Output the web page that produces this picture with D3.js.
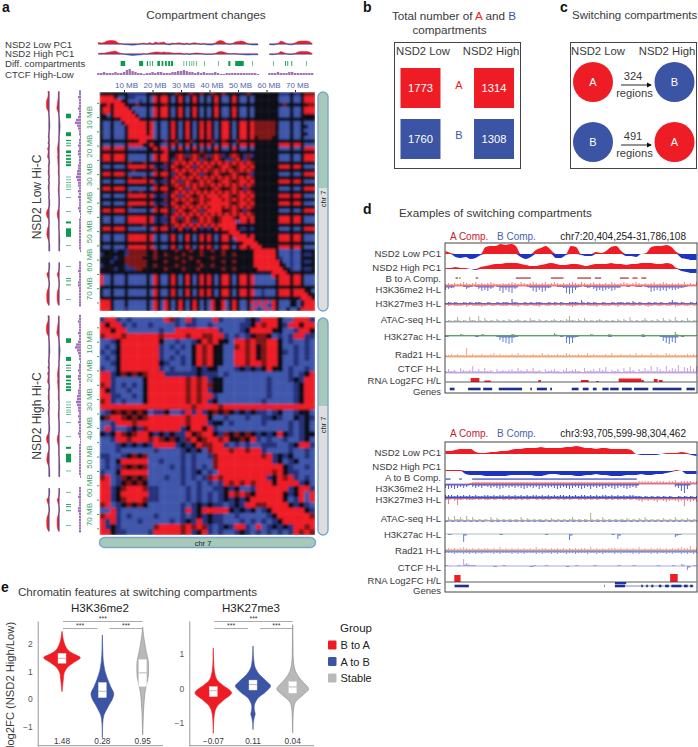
<!DOCTYPE html>
<html>
<head>
<meta charset="utf-8">
<script src="https://cdn.jsdelivr.net/npm/d3@7"></script>
<style>
    html, body { margin: 0; padding: 0; background: #fff; }
    svg { display: block; }
    text { font-family: "Liberation Sans", Arial, sans-serif; fill: #3a3a3a; }
</style>
</head>
<body>
<div id="chart"></div>
<script>
// a: contact maps, one letter per bin (r red, b blue, k black, d dark red, n navy)
const hicLow = [
    "kkkkkkkknn nnnkkkkkkk kdkkkdkkdk kdkkdkkkkk kdkkkkkkkk nnnknnkddd",
    "rrrrkbbknn bbbkbrkrrk bkrkbkrkbk bkrkbbkrkb bkbkkkkkkk bbbkbbkrrr",
    "rrrrrrkkbb bnbkbrkrrk bkrkbkrkbk bkrkbbkrkb bkbkkkkkkk bbbkbbkrrr",
    "kkrkrrrkkk dkkkkkkkdk kkkkkkkkkk kkdkkkkkkk kkkkkkkkkk kdkkkkkkdd",
    "krrkrrrrkb bbbkbrkrrk bkrkbkrkbk bkrkbbkrkb bkbkkkkkkk bbbkbbkrrr",
    "krrkrrrrrk bbbkbrkrrk bkrkbkrkbk bkrkbbkrkb bkbkkkkkkk bbbkbbkrrr",
    "kkbkrrrrrr kbbkbrkrrk bkrkbkrkbk bkrkbbkrkb bkbkkkkkkk bbbkbbkkkk",
    "kkkkkkrrrr rkkkkkkkkk kkkkkkkkkk kkkkkkkkkk kkkkkkkkkk kkkkkkkkkk",
    "kbbkbbkrrr rrrkrbkbbk rkbkrkbkrk rkbkrrkbkr rkrddddddk bbbkbbkbbb",
    "kbbkbbbkrr rrrkrbkbbk rkbkrkbkrk rkbkrrkbkr rkrddddddk bbbkbbkkbb",
    "kbbkbbbkrr rrrkrbkbbk rkbkrkbkrk rkbkrrkbkr rkrddddddk bbbkbbkbbb",
    "kbbkbbbkrr rrrkrbkbbk rkbkrkbkrk rkbkrrkbkr rkrddddddk bbbkbbkkbb",
    "kbbkbbbkrr rrrrrbkbbk rkbkrkbkrk rkbkrrkbkr rkrkddddkk bbbkbbkbbb",
    "kkkkkkkkkk krrkkkkkdk kdkkkdkkkk kdkkdkkkdk kkkkkkkkkk kkkkkkkkkk",
    "kbbkbbbkrr rrkkrkkbbk rkbkrkbkrk rkbkrrkbkr rkrkkkkkkk rrrkrrkbbb",
    "krrkrrrkbb bbbkkrkrrk bkrkbkrkbk bkrkbbkrkb bkbkkkkkkk bbbkbbkrrr",
    "kkkkkkkkkk kkkkkkkkrk kkkkkkkkdk kkkkkkkkkk kkkkkkkkkk kkkkkkkkkk",
    "krrkrrrkbb bbbkbrkrrk kdrdndrdkd ndrdnkdrdk ndnkkkkkkk bbbkbbkrrr",
    "krrkrrrkbb bbbkbrkrrk ndrdkdrdnd kdrdknndrk ndkkkkkkkk bbbkbbkrrr",
    "kkkkkkkkdk kkdkkkkkdk drdrdrdrdr drdrdrdrdr drdkkkkkkk kkkkkkkkkk",
    "kbbkbbbkrr rrrkrnknnk rdkdrdndrd rdkdrrdkdr rdrkkkkkkk rrrkrrkbbb",
    "kkkkkkkkkd kkkkkdkkdk drdrdrdrdr ddrdrdrddr drdkkkkkkk kkkkkkkkkk",
    "krrkrrrkbb bbbkbrkrrk ndrdkdrdnd kdrdkkdrdk kdnkkkkkkk bbbkbbkrrr",
    "kkkkkkkkdk kkdkkkkkdk drdrdrdrdr drdrdrdrdr drdkkkkkkk kkkkkkkkkk",
    "kbbkbbbkrr rrrkrnknnk rdndrdkdrd rdkdrrdkdr rdrkkkkkkk rrrkrrkbbb",
    "kkkkkkkkkk kkkkkdkkdk drddrdrdrd drdrdrdrdr drdkkkkkkk kkkkkkkkkk",
    "krrkrrrkbb bbbkbrkrrk kdrdndrdkd kdrdkkdrdk ndkkkkkkkk bbbkbbkrrr",
    "kkkkkkkkdk kdkkkkkkdk drdrdrdrdr drdrdrdrdr drdkkkkkkk kkkkkkkkkk",
    "kbbkbbbkrr rrrkrnknnk rdndrdkdrd rrrdrrdkdr rdrkkkkkkk rrrkrrkbbb",
    "kkkkkkkkkk kkkkkkkkdk drdrdrddrd drrrdrdrdr drdkkkkkkk kkkkkkkkkk",
    "kbbkbbbkrr rrrkrnknnk rdkdrdkdrd rrrrrrdkdr rdrkkkkkkk rrrkrrkbbb",
    "kkkkkkkkdk kkkkkdkkdk drdrdrdrdr drrrdrdrdr drdkkkkkkk kkkkkkkkkk",
    "krrkrrrkbb bbbkbrkrrk ndrdkdrdnd rrrrkkdrdk ndkkkkkkkk bbbkbbkrrr",
    "kkkkkkkkkk kkkkkkkkdk drdrdrdrdr drdrdrdrdr drdkkkkkkk kkkkkkkkkk",
    "kbbkbbbkrr rrrkrnknnk rdndrdkdrd rdkdrrrdkr rdrkkkkkkk rrrkrrkbbb",
    "kbbkbbbkrr rrrkrnknnk rdkdrdndrd rdkdrrrrbr rkrkkkkkkk rrrkrrkbbb",
    "kkkkkkkkkk kkdkkkkkdk drdrdrdrdr drdrrrrrkk kkkkkkkkkk kkkkkkkkkk",
    "krrkrrrkbb bbbkbrkrrk nkrknkrknk nkrkrrrrkn nknkkkkkkk bbbkbbkrrr",
    "kkkkkkkkkk kkkkkkkkkk kkkkkkkkkk kkkkkkrrrk kkkkkkkkkk kkkkkkkkkk",
    "kbbkbbbkrr rrrkrbkbbk rkbkrkbkrk rkbkrrkrrr rkrkkkkkkk rrrkrrkbbb",
    "kbbkbbbkrr rrrkrbkbbk rkbkrkbkrk rkbkrrkbrr rrrkkkkkkk rrrkrrkbbb",
    "kkkkkkkkkk kkkkkkkkkk kkkkkkkkkk kkkkkkkkkk rrrrkkkkkk kkkkkkkkkk",
    "kbbkbbbkrr rrrkrbkbbk rkbkrkbkrk rkbkrrkbkr rkrrrkkkkk rrrkrrkbbb",
    "kkkknkkndd dddkkdkkkk kdkkkdkkdk kdkkdkkkkk kkkrrrrrrk bbbnbbkkkk",
    "nkkkkkkndd dddkkdkkdk kkkdkkkkdk kkkkdkkdkk kkkrrrrrrk bbbnbbknnk",
    "kkkknkkddd ddkkkdkkkk kdkkkdkkkk kdkkkkkkkk kkkrrrrrrk nbbnbbkkkk",
    "kkknkkkddd dddkkkkkdk kkkdkkkdkk kkkkdkkdkk kkkrrrrrrr kbbnbbknnk",
    "nkkkkkkndd dddkkdkkkk kdkkkkkkdk kdkkkkkkkk kkkrrrrrrr kkbnbbkkkk",
    "kkkknkknnn ddkkkkkkdk kkkdkkkdkk kkkkdkkdkk kkkkrrrrrr rkknbbknnk",
    "kkkkkkkkkk kkkkkkkkkk kkkkkkkkkk kkkkkkkkkk kkkkkkkkrr rrkkkkkkkk",
    "rbbkbbbkbb bbbkbrkbbk rkbkrkbkrk rkbkrrkbkr rkrbbbbbrk rrrkrrkbbb",
    "rbbkbbbkbb bbbkbrkbbk rkbkrkbkrk rkbkrrkbkr rkrbbbbbbk rrrkrrkbbb",
    "rbbkbbbkbb bbbkbrkbbk rkbkrkbkrk rkbkrrkbkr rkrbbbbbbk rrrkrrkbbb",
    "kkkkkkkkkk kkkkkkkkkk kkkkkkkkkk kkkkkkkkkk kkkkkkkkkk kkkkkkkkkk",
    "kbbkbbbkbb bbbkbrkbbk rkbkrkbkrk rkbkrrkbkr rkrbbnbbbk rrrkrrrkkb",
    "kbbkbbbkbb bbbkbrkbbk rkbkrkbkrk rkbkrrkbkr rkrbbnbbbk rrrkrrrrkk",
    "kkkkkkkkkk kkkkkkkkkk kkkkkkkkkk kkkkkkkkkk kkkkkkkkkk kkkkkkrrrk",
    "rrrkbbbkbb bbbkbrkbrk bkrkbkrkbk brkkrbkrkb bkrbrbrbrk bbbkkbkrrr",
    "rrrkbbbkbb bbbkbrkbrk bkrkbkrkbk brkkrbkrkb bkbrbrbnrk bbbkkbkrrr",
    "rrrkbbbnbb bbbkbrkbrk bkrkbkrkbk brkkrbkrkb bkrbnbrbrk bbkbbkrrrr"
];
const hicHigh = [
    "nrrnbnbbbb bbrdnbrnbb brnbbbbnkn rrrkbbrrrn",
    "rkrrnbnbbn bbbbnbnnbb nbbbbbnnkr drrknrrkrr",
    "rrkrrbbbbb bnbbrrrrrr rrnbbbnkrr rrkkbbnrrk",
    "drrrdrrrrr rdrrrrdrrd drrnbnbnkd dkbnbnrrnn",
    "bbnkrrrrrr rkbbnbbnkr drkkbrrdrd drrkbnbbnb",
    "bnbkrrrrrr rnbnbnbkrd rkkbbdrdrk drrkbbnbnb",
    "nbnkrrrrrr rnbbnbbkrd rkkbbrrdrk drrknbnbnb",
    "bnbkrrrrrr rnbnbnbkrd rkkbbrrdrk drrkbbnbnb",
    "bbnkrrrrrr rknbbnbkrd rkkbbrrdrr drrkbbnbbb",
    "nbbkrrrrrr rnbnbbbnkn kkbbbnknkn krkkbnbbnb",
    "rrnkdkdkdr rrnnnnnnkn nnbnbbbbbb bbbbbnbnkr",
    "rrnbbbbbkr rrrrrrdrdr nkkbbbbbbb bnbbbnknrr",
    "drnbnbnbkr rrrrrrdrdr dkkbbbbbbb bnbbbbnkrr",
    "rknbbnbbkr rrrrrrdrdr nkkbbbbbbb bnbbbbnkrr",
    "rrnnbbnbkr rrrrrrdrdr rnbbbbbbbb bnbbbbnkrr",
    "drnbnbbbkr rrrrrrdrdr nkbbbbbbbb nbbbbbnkrr",
    "rrrrrrrrrr rrrrrrrdrr rrdrrrrrrr rrrrrrrrrr",
    "bnkdkdkdkb nnkbbnrnrn kdkdknknkn nbnkbbnkkb",
    "kdrrdkdkdr rrrrrrdrrr kbbnbbbnbb nnknbbknkn",
    "bbnrrrdrrr rrrrrrdrrr nkkbnbbbbb nbbbbnbnkb",
    "brnbbnkndr rrrrrnkrrk rnbbbbbbbb bbbbbnbnkb",
    "knkrdkdrrk nknknnrkdr rkndkdkdkn knkrknbnkk",
    "bbnrrdrrrd rdkdkndrkd rrdrkkdkrn bnbbnbbnkb",
    "bbbnknknkn rrrrnknkrd drrnbnbnbb nnnbbnkrrn",
    "bbbnbbbbbb nbbbbnknkb drrrdrrdrr nbbbbnbbnb",
    "nnbbnkdkdb bbbbbnbnbb ndrrrrrrrr drnknkbbnb",
    "bnbkrrrrrb bnbbbnbnbb bdrrrrrrrr rrnkbnkbbb",
    "bnbndkdkdb bbbnbnbnbn bdrrrrrrrr rrrrknbbnb",
    "nbbkrrrrrb bbbbbnbnkb nbrrrrrrrr rrdrknnbbb",
    "drbndkdkdb bbnbbnbnbn drdrrrrrrr rnkrdrnbnb",
    "rrbnkdkdkb bbbbbnbbnb nbnrdrdrdr rrkrrrrnkb",
    "rrnkdrrrdn nbbbbbnbnb bnnknkbbnr rrrrrnkrrn",
    "rrnkrrrrrn nbbbbbnbnb nbnkrdrdkr rrrrknkrbr",
    "rrnkdrrrdn nbbbbbnbnb nbnknknkrr rrrrkbnrbr",
    "drbnkdkdkb bbbbbnbnkn knnbnknrrd drrrrknknb",
    "bbrnbbbbbb bbbbbnrnkr rrrrknknkb nkrrrrrrkn",
    "drrnbnbbbb nbbbbnbnkn knnbbnbbbb bnkrrrrrrd",
    "rnrnbbbnbb bbbnbnknrn knnbbbnbnb nbnkrrrrrr",
    "rnknbbbbbb drrrrdrdrd nbnknrrnbr bnknknrrdr",
    "rrknnbbbbn rrrrrdrnkr nbnbbnknbn bnbnbnrdrd"
];
const hicColors = { r: "#ee1c25", b: "#3f57ab", k: "#0b0b18", d: "#7d1414", n: "#26327a" };

// a: chromosome 7 tracks, one value per MB from 1 to 76, null in the gap
const mbBins = d3.range(1, 77);
const pc1LowChr7 = [1.5,1,1.5,3,3.5,3.5,3,1,.3,-.5,-.8,-1,-1.2,-1,-.5,.5,1,-.3,1.5,-.5,2,1,1.5,2,-.5,-1,1,.5,1.2,1,-.8,1,-.6,1,1.2,.5,-.5,.5,-.8,-1,-1,1,3,3.5,2.5,.5,-.5,.5,2,2.5,3,2.5,1,-.5,-1,-1,-1,null,null,null,-.5,-1,-.8,.5,3,2,.5,-.8,-.8,1,2.5,3,3,3,2.5,.5];
const pc1HighChr7 = [.5,1,.8,1.5,2,2.5,3,1.5,.5,-.3,-.8,-1.2,-1.5,-1.3,-1,-.8,.3,-.3,1,1.5,2,2,1.5,2,1.5,1.5,1,.8,1,1,-.3,.5,-.5,.5,1,1,.5,-.3,-.5,-.5,-.5,.5,2,2.5,2,1,.3,.3,.5,-.3,-.5,-.8,-1,-1,-.8,-.8,-.8,null,null,null,-.5,-.8,-.5,.5,2.5,1.5,.3,-.5,-.5,.5,2,2.5,2.5,2.5,2,.5];
const ctcfChr7 = [1,1,2,1,1,1,2,1,1,2,4,5,3,2,1,1,0,1,1,2,1,2,2,1,1,1,2,2,3,3,4,3,2,2,1,2,1,2,1,1,1,2,1,0,0,1,1,1,1,1,1,1,1,1,1,1,0,null,null,null,1,1,1,2,1,1,1,2,2,1,1,1,1,1,1,1];
const diffRegions = [[8.8,10.4],[15.3,16.7],[18,18.4],[19,19.3],[19.9,20.2],[21.7,22.6],[23.2,23.8],[24.4,25],[25.5,26.2],[26.5,27.2],[30.9,31.1],[31.9,32.1],[32.8,33],[33.7,33.9],[34.4,34.6],[35.3,35.5],[38.1,38.3],[43,43.2],[46.6,47.3],[49,52],[54.9,55.1],[62.3,62.5],[66.5,66.8],[67.3,67.6],[68.7,69],[73.9,74.1]];
const mbTicks = [10, 20, 30, 40, 50, 60, 70];

// b, c
const compartmentCounts = [1773, 1314, 1760, 1308];
const switchCounts = [324, 491];

// d: genome browser tracks. PC1 sampled every 2% of the window
const pcLowA = [3,1,-3,-4,-3,-5,-4,-1,7,8,8,10,9,10,8,-3,-5,-3,4,6,8,4,-4,-4,-1,8,7,-1,-2,-2,2,1,3,7,8,3,-2,-2,-3,0,1,7,8,8,9,7,2,-4,-5,-6,-6];
const pcHighA = [1,1,2,1,1,0,-1,2,3,4,5,5,6,6,6,5,4,3,3,4,5,6,5,4,4,5,5,4,3,4,5,5,5,6,5,5,4,5,5,6,6,6,5,5,6,5,1,-2,-3,-4,-4];
const pcLowB = [3,3,4,5,5,5,2,1,1,2,2,3,3,4,5,5,6,6,6,7,6,6,6,6,7,7,8,7,6,6,5,6,6,5,5,5,5,4,0,-1,-1,-1,-1,0,1,1,1,2,1,-1,-2];
const pcHighB = [1,1,1,1,-3,-4,-4,-4,-5,-5,-5,-5,-5,-4,-4,-4,-4,-4,-5,-5,-4,-3,-3,-4,-4,-4,-5,-5,-4,-4,-3,-4,-4,-5,-5,-5,-4,-4,-4,-3,-4,-4,-3,-3,-2,-1,1,0,-3,-3,-3];

// signal tracks: one digit per sample, height of the spike above / below the baseline
const k36UpA = "232323432342323432232343243234323423432323432432342323243234323432323423432323242324";
const k36DownA = "432000131013545301574673000125646520011278741012135454354200100110126545453443210000";
const k27UpA = "121211212122112112122152112121221121212112221412121121121221213121121212112421211212";
const k27DownA = "121222131222321221222122312212231221212122321212223122212312122121232122122132122121";
const atacUpA = "121251215216141213121312312142131212312136213141212312121313151212412131413151214121";
const acUpA = "111112111111211111111121111111111111311111111111211111211111111112111111111141111111";
const acDownA = "100000000010000001467871000000000000001078710000000000100000000001000001578670100000";
const radUpA = "223232292322322342322232423223224232232243223224232223242232232423224232243232223232";
const ctcfUpA = "242315323724252314232342532425231423421352342152342536132415263142537264273548265747";
const k36UpB = "000000001222222222222222222222222222222222222222222222222222222233333233323342333323";
const k36DownB = "454543431343423434543434345434354343454345434543534354345434543400000000000034795000";
const k27UpB = "333232323232233232332323232323323232323323232332323233232323233221212121212112121212";
const k27DownB = "261372122212122121121212121211212121121212112121212112121212121234232342343234383434";
const atacUpB = "141524151412121413121212141312121213121212412121812141212121312131412121312141213121";
const atacDownB = "101010101010100101010101010101011010101010101010101010101011010101010101010101010101";
const acDownB = "010000800000000000100000000000000100000006000000000000010500000000000000000031000000";
const radUpB = "232323432323233232423232323232423323232323232332423232333232323242323233232323433523";
const radDownB = "222322323232322232322232323222323223232232232223223232223232223232223232232322323232";
const ctcfUpB = "100010731100000000010000000001000100000000010000010000000100001000000010000100200010";
const ctcfDownB = "000000000000000010000000000010000000000010000000000000000000000000000000000000004000";

// d: regions as percent of the window
const compRegionsA = [[4,5],[5.5,6],[12,13],[28,34],[42,47],[52.5,58],[59.5,62],[69.5,73],[74.5,76.5],[78,80]];
const compRegionsB = [[0,2],[5.5,6.5],[10.6,76.2]];
const rnaBarsA = [[10,13.5,4],[15.5,18,1.5],[37,38,2],[54,57,2],[60,61,1],[69,78,3.5],[78,79,2],[83,84.5,3],[85,86.5,2]];
const rnaBarsB = [[3.5,6,7],[89.5,92.5,8]];
const rnaLossB = [[67.5,72]];
const geneBlocksA = [[1.7,3.6],[9,14],[15,18.6],[21.2,30.5],[33.8,34.4],[36.4,40.4],[41.7,42.4],[50.3,53],[54.7,57],[58.7,60.2],[62.5,65],[65.6,69],[70.3,74.2],[75.1,80.8],[82.5,94],[96,99.3]];
const geneBlocksB = [[3.6,9.3],[63.3,63.5],[67.5,71.5],[78,78.6],[80,80.6],[82,82.8],[85,86],[87.5,89],[90,94],[95,96.5],[97.5,98.5]];
const geneLineB = [[67.5,99]];
const trackLabelsA = ["NSD2 Low PC1", "NSD2 High PC1", "B to A Comp.", "H3K36me2 H-L", "H3K27me3 H-L", "ATAC-seq H-L", "H3K27ac H-L", "Rad21 H-L", "CTCF H-L", "RNA Log2FC H/L", "Genes"];
const trackLabelsB = ["NSD2 Low PC1", "NSD2 High PC1", "A to B Comp.", "H3K36me2 H-L", "H3K27me3 H-L", "ATAC-seq H-L", "H3K27ac H-L", "Rad21 H-L", "CTCF H-L", "RNA Log2FC H/L", "Genes"];

// e: violin outlines as [log2FC, relative density]
const groups = ["B to A", "A to B", "Stable"];
const groupColors = ["#ee1c25", "#3b54a4", "#b9b9b9"];
const k36Violins = [
    [[2.45,.01],[2.2,.06],[2,.14],[1.8,.3],[1.65,.6],[1.5,1],[1.35,.7],[1.15,.3],[.95,.12],[.7,.07],[.45,.03],[.27,.005]],
    [[2.33,.005],[1.8,.02],[1.4,.05],[1,.15],[.7,.3],[.45,.45],[.2,.62],[0,.55],[-.2,.38],[-.4,.22],[-.6,.08],[-.9,.02],[-1.4,.005]],
    [[2.6,.005],[2.3,.05],[2,.12],[1.7,.2],[1.4,.3],[1.1,.32],[.8,.3],[.5,.2],[.2,.12],[-.1,.08],[-.5,.04],[-.9,.02],[-1.3,.005]]
];
const k27Violins = [
    [[1.17,.005],[.8,.02],[.5,.06],[.25,.2],[.1,.5],[-.13,1],[-.35,.55],[-.55,.18],[-.75,.06],[-1,.02],[-1.31,.005]],
    [[1.23,.005],[.9,.03],[.6,.12],[.4,.35],[.2,.75],[.07,.96],[-.1,.7],[-.3,.25],[-.5,.07],[-.65,.08],[-.75,.12],[-.85,.07],[-1,.02],[-1.2,.005]],
    [[1.85,.005],[1.2,.02],[.8,.04],[.5,.15],[.25,.45],[.05,.8],[-.03,.87],[-.2,.55],[-.4,.15],[-.6,.05],[-.9,.02],[-1.3,.005]]
];
// box low, median, box high
const k36Boxes = [[1.3,1.48,1.66],[.05,.28,.6],[.45,.95,1.44]];
const k27Boxes = [[-.24,-.07,.05],[-.05,.11,.24],[-.14,.04,.2]];
const k36Medians = ["1.48", "0.28", "0.95"];
const k27Medians = ["\u22120.07", "0.11", "0.04"];

const RED = "#ee1c25", BLUE = "#3b54a4";
const svg = d3.select("#chart").append("svg").attr("width", 698).attr("height", 747);
const defs = svg.append("defs");
defs.append("filter").attr("id", "soft")
    .append("feGaussianBlur").attr("stdDeviation", 1);

function label(parent, x, y, str, size, opts) {
    opts = opts || {};
    return parent.append("text")
        .attr("x", x).attr("y", y)
        .attr("font-size", size)
        .attr("text-anchor", opts.anchor || "start")
        .attr("font-weight", opts.weight || null)
        .style("fill", opts.color || null)
        .text(str);
}

function drawHeatmap(rows, x0, y0, w, h, id) {
    const cleanRows = rows.map(r => r.replace(/ /g, ""));
    const x = d3.scaleBand().domain(d3.range(cleanRows[0].length)).range([x0, x0 + w]);
    const y = d3.scaleBand().domain(d3.range(cleanRows.length)).range([y0, y0 + h]);
    defs.append("clipPath").attr("id", id).append("rect")
        .attr("x", x0).attr("y", y0).attr("width", w).attr("height", h);
    const cells = svg.append("g").attr("clip-path", `url(#${id})`)
        .append("g").attr("filter", "url(#soft)");
    cleanRows.forEach((row, i) => {
        cells.selectAll(null)
            .data(row.split(""))
            .enter().append("rect")
            .attr("x", (d, j) => x(j))
            .attr("y", y(i))
            .attr("width", x.bandwidth() + 0.5)
            .attr("height", y.bandwidth() + 0.5)
            .attr("fill", d => hicColors[d]);
    });
}

// PC1 along a chromosome, horizontal or turned on its side
function drawChromPc(values, pos, base, horizontal) {
    const amp = d3.scaleLinear().domain([0, 4]).range([0, horizontal ? 4 : 3]);
    [[RED, v => Math.max(v, 0)], [BLUE, v => Math.min(v, 0)]].forEach(part => {
        const color = part[0], clip = part[1];
        const area = horizontal
            ? d3.area().defined(d => d[1] !== null)
                .x(d => pos(d[0])).y0(base).y1(d => base - amp(clip(d[1])))
            : d3.area().defined(d => d[1] !== null)
                .y(d => pos(d[0])).x0(base).x1(d => base - amp(clip(d[1])));
        svg.append("path")
            .datum(mbBins.map((mb, i) => [mb, values[i]]))
            .attr("fill", color)
            .attr("stroke", color)
            .attr("stroke-width", 0.5)
            .attr("d", area);
    });
}

function drawChromTracks(pos, horizontal) {
    const base = horizontal ? [44, 54, 63.5, 75] : [49, 59, 68.5, 81];
    drawChromPc(pc1LowChr7, pos, base[0], horizontal);
    drawChromPc(pc1HighChr7, pos, base[1], horizontal);
    diffRegions.forEach(r => {
        const a = pos(r[0]), len = Math.max(pos(r[1]) - a, 0.6);
        const rect = svg.append("rect").attr("fill", "#0a9a50");
        if (horizontal) rect.attr("x", a).attr("y", base[2] - 2.5).attr("width", len).attr("height", 5);
        else rect.attr("x", base[2] - 2.5).attr("y", a).attr("width", 5).attr("height", len);
    });
    ctcfChr7.forEach((v, i) => {
        if (v === null) return;
        const p = pos(mbBins[i]);
        const line = svg.append("line").attr("stroke", "#8a4fa8").attr("stroke-width", 2.4).attr("opacity", 0.8);
        if (horizontal) line.attr("x1", p).attr("x2", p).attr("y1", base[3]).attr("y2", base[3] - v - 1);
        else line.attr("y1", p).attr("y2", p).attr("x1", base[3]).attr("x2", base[3] - v - 1);
    });
}

function drawPill(id, x, y, w, h, tealHeight) {
    defs.append("clipPath").attr("id", id).append("rect")
        .attr("x", x).attr("y", y).attr("width", w).attr("height", h).attr("rx", 5);
    const g = svg.append("g");
    const inner = g.append("g").attr("clip-path", `url(#${id})`);
    inner.append("rect").attr("x", x).attr("y", y).attr("width", w).attr("height", h).attr("fill", "#dedede");
    inner.append("rect").attr("x", x).attr("y", y).attr("width", w).attr("height", tealHeight).attr("fill", "#a6c9b9");
    g.append("rect").attr("x", x).attr("y", y).attr("width", w).attr("height", h).attr("rx", 5)
        .attr("fill", "none").attr("stroke", "#7aa6cf").attr("stroke-width", 1.4);
}

function drawPanelA() {
    label(svg, 2, 12, "a", 14, { weight: "bold", color: "#111" });
    label(svg, 206, 19, "Compartment changes", 11.8, { anchor: "middle" });
    ["NSD2 Low PC1", "NSD2 High PC1", "Diff. compartments", "CTCF High-Low"].forEach((t, i) => {
        label(svg, 5, [47.5, 57, 67, 77.5][i], t, 9.6);
    });

    const x = d3.scaleLinear().domain([1.4, 77]).range([99.5, 315]);
    const yTop = d3.scaleLinear().domain([1.2, 78]).range([92, 311]);
    const yBottom = d3.scaleLinear().domain([1.4, 77.3]).range([317, 535]);

    drawChromTracks(x, true);
    drawChromTracks(yTop, false);
    drawChromTracks(yBottom, false);

    drawHeatmap(hicLow, 99.5, 92, 215.5, 219, "hicLowClip");
    drawHeatmap(hicHigh, 99.5, 317, 215.5, 218, "hicHighClip");

    const topAxis = svg.append("g").attr("transform", "translate(0,92)")
        .call(d3.axisTop(x).tickValues(mbTicks).tickFormat(d => d + " MB").tickSize(2).tickPadding(2));
    topAxis.select(".domain").remove();
    topAxis.selectAll("line").attr("stroke", "#223");
    topAxis.selectAll("text").attr("font-size", 8).attr("dx", 2)
        .style("fill", "#4f63ad").style("font-family", '"Liberation Sans"');

    [yTop, yBottom].forEach(y => {
        const ticks = d3.range(5, 76, 5);
        const axis = svg.append("g").attr("transform", "translate(99,0)")
            .call(d3.axisLeft(y).tickValues(ticks).tickFormat(d => d % 10 === 0 ? d + " MB" : "").tickSize(2));
        axis.select(".domain").remove();
        axis.selectAll("line").attr("stroke", "#2a6");
        axis.selectAll("text")
            .attr("transform", "rotate(-90)")
            .attr("x", 0).attr("y", -7.5).attr("dy", 0)
            .attr("text-anchor", "middle").attr("font-size", 8)
            .style("fill", "#36a166").style("font-family", '"Liberation Sans"');
    });

    label(svg, 0, 0, "NSD2 Low Hi-C", 12, { anchor: "middle" }).attr("transform", "translate(41,197) rotate(-90)");
    label(svg, 0, 0, "NSD2 High Hi-C", 12, { anchor: "middle" }).attr("transform", "translate(41,416) rotate(-90)");

    drawPill("pillA", 318, 92, 10, 219, 96);
    label(svg, 0, 0, "chr 7", 7.5, { anchor: "middle", color: "#222" }).attr("transform", "translate(325.5,199) rotate(-90)");
    drawPill("pillB", 318, 318, 10, 217, 88);
    label(svg, 0, 0, "chr 7", 7.5, { anchor: "middle", color: "#222" }).attr("transform", "translate(325.5,425) rotate(-90)");
    drawPill("pillC", 99.5, 537.5, 216, 10, 10);
    label(svg, 203, 545.5, "chr 7", 7.5, { anchor: "middle", color: "#222" });
}

function drawPanelB() {
    label(svg, 363, 12, "b", 14, { weight: "bold", color: "#111" });
    const title = label(svg, 454, 20, "", 11.7, { anchor: "middle" });
    title.append("tspan").text("Total number of ");
    title.append("tspan").style("fill", RED).text("A");
    title.append("tspan").text(" and ");
    title.append("tspan").style("fill", BLUE).text("B");
    label(svg, 449.5, 33.5, "compartments", 11.7, { anchor: "middle" });
    svg.append("rect").attr("x", 394.5).attr("y", 42.5).attr("width", 126).attr("height", 126)
        .attr("fill", "none").attr("stroke", "#444").attr("stroke-width", 1);
    label(svg, 423, 55, "NSD2 Low", 11.3, { anchor: "middle" });
    label(svg, 491, 55, "NSD2 High", 11.3, { anchor: "middle" });

    const x = d3.scaleBand().domain([0, 1]).range([400.5, 514]).paddingInner(0.456);
    const y = d3.scaleBand().domain([0, 1]).range([68, 159]).paddingInner(0.216);
    svg.selectAll(".count-box").data(compartmentCounts).enter().append("rect")
        .attr("class", "count-box")
        .attr("x", (d, i) => x(i % 2))
        .attr("y", (d, i) => y(i < 2 ? 0 : 1))
        .attr("width", x.bandwidth()).attr("height", y.bandwidth())
        .attr("fill", (d, i) => i < 2 ? RED : BLUE);
    svg.selectAll(".count-label").data(compartmentCounts).enter().append("text")
        .attr("class", "count-label")
        .attr("x", (d, i) => x(i % 2) + x.bandwidth() / 2)
        .attr("y", (d, i) => y(i < 2 ? 0 : 1) + 24)
        .attr("text-anchor", "middle").attr("font-size", 11.2)
        .style("fill", "#fff").text(d => d);
    label(svg, 459, 88.5, "A", 11, { anchor: "middle", color: RED });
    label(svg, 459, 139, "B", 11, { anchor: "middle", color: BLUE });
}

function drawPanelC() {
    label(svg, 560, 12, "c", 14, { weight: "bold", color: "#111" });
    label(svg, 572, 19, "Switching compartments", 11.5);
    svg.append("rect").attr("x", 570.5).attr("y", 42.5).attr("width", 126).attr("height", 126)
        .attr("fill", "none").attr("stroke", "#444").attr("stroke-width", 1);
    label(svg, 598, 55, "NSD2 Low", 11.3, { anchor: "middle" });
    label(svg, 667, 55, "NSD2 High", 11.3, { anchor: "middle" });

    defs.append("marker").attr("id", "arrow").attr("viewBox", "0 0 6 6")
        .attr("refX", 5).attr("refY", 3).attr("markerWidth", 6).attr("markerHeight", 6).attr("orient", "auto")
        .append("path").attr("d", "M0,0L6,3L0,6Z").attr("fill", "#111");

    const rowY = d3.scalePoint().domain([0, 1]).range([82, 142]);
    switchCounts.forEach((count, i) => {
        const cy = rowY(i);
        const from = i === 0 ? RED : BLUE, to = i === 0 ? BLUE : RED;
        svg.append("circle").attr("cx", 593).attr("cy", cy).attr("r", 20).attr("fill", from);
        svg.append("circle").attr("cx", 674.5).attr("cy", cy).attr("r", 20).attr("fill", to);
        label(svg, 593, cy + 4, i === 0 ? "A" : "B", 11, { anchor: "middle", color: "#fff" });
        label(svg, 674.5, cy + 4, i === 0 ? "B" : "A", 11, { anchor: "middle", color: "#fff" });
        label(svg, 633, cy - 2.5, count, 11.2, { anchor: "middle" });
        label(svg, 634.5, cy + 14.5, "regions", 11.2, { anchor: "middle" });
        svg.append("line").attr("x1", 621).attr("x2", 651).attr("y1", cy + 3).attr("y2", cy + 3)
            .attr("stroke", "#111").attr("stroke-width", 0.9).attr("marker-end", "url(#arrow)");
    });
}

// a thin band on the baseline with one spike per digit, up and down
function drawSignal(x, y0, upStr, downStr, upColor, downColor, baseColor) {
    const g = svg.append("g");
    const draw = (str, dir, color) => {
        if (!str) return;
        const step = d3.scaleLinear().domain([0, str.length - 1]).range([0, 100]);
        const values = str.split("").map(Number);
        g.append("path").datum(values)
            .attr("fill", color)
            .attr("d", d3.area()
                .x((d, i) => x(step(i)))
                .y0(y0)
                .y1(d => y0 + dir * Math.min(d, 1.5))
                .curve(d3.curveStepAfter));
        g.selectAll(null).data(values).enter().append("line")
            .attr("x1", (d, i) => x(step(i)))
            .attr("x2", (d, i) => x(step(i)))
            .attr("y1", y0)
            .attr("y2", d => y0 + dir * d)
            .attr("stroke", color)
            .attr("stroke-width", 1);
    };
    draw(upStr, -1, upColor);
    draw(downStr, 1, downColor);
    g.append("line").attr("x1", x(0)).attr("x2", x(100)).attr("y1", y0).attr("y2", y0)
        .attr("stroke", baseColor).attr("stroke-width", 0.8);
}

function drawBrowserPc(x, y0, values) {
    const step = d3.scaleLinear().domain([0, values.length - 1]).range([0, 100]);
    [[RED, v => Math.max(v, 0)], ["#1c33c4", v => Math.min(v, 0)]].forEach(part => {
        svg.append("path").datum(values)
            .attr("fill", part[0])
            .attr("d", d3.area()
                .x((d, i) => x(step(i)))
                .y0(y0)
                .y1(d => y0 - part[1](d))
                .curve(d3.curveMonotoneX));
    });
}

function drawBrowser(conf) {
    const x = d3.scaleLinear().domain([0, 100]).range([445.5, 696.5]);
    label(svg, 450, conf.legendY, "A Comp.", 10, { color: "#c8202c" });
    label(svg, 497, conf.legendY, "B Comp.", 10, { color: "#4a5fae" });
    label(svg, 686, conf.legendY, conf.coord, 10, { anchor: "end", color: "#222" });

    conf.labels.forEach((t, i) => {
        label(svg, 441, conf.labelY[i] + 3.5, t, 9.5, { anchor: "end" });
    });
    const b = conf.base;
    drawBrowserPc(x, b.pcLow, conf.pcLow);
    drawBrowserPc(x, b.pcHigh, conf.pcHigh);

    conf.comp.forEach(r => {
        svg.append("rect").attr("x", x(r[0])).attr("y", b.comp - 0.5)
            .attr("width", x(r[1]) - x(r[0])).attr("height", 1.1).attr("fill", conf.compColor);
    });

    conf.signals.forEach(s => drawSignal(x, s[0], s[1], s[2], s[3], s[4], s[5]));

    // RNA bars sit on a line, genes below it
    conf.rna.forEach(r => {
        svg.append("rect").attr("x", x(r[0])).attr("width", x(r[1]) - x(r[0]))
            .attr("y", b.rna - r[2]).attr("height", r[2]).attr("fill", RED);
    });
    (conf.rnaLoss || []).forEach(r => {
        svg.append("rect").attr("x", x(r[0])).attr("width", x(r[1]) - x(r[0]))
            .attr("y", b.rna).attr("height", 2.2).attr("fill", "#1c33c4");
    });
    svg.append("line").attr("x1", x(0)).attr("x2", x(100)).attr("y1", b.rna).attr("y2", b.rna)
        .attr("stroke", "#333").attr("stroke-width", 0.8);
    (conf.geneLine || []).forEach(r => {
        svg.append("line").attr("x1", x(r[0])).attr("x2", x(r[1])).attr("y1", b.genes).attr("y2", b.genes)
            .attr("stroke", "#223a9a").attr("stroke-width", 0.6);
    });
    conf.genes.forEach(r => {
        svg.append("rect").attr("x", x(r[0])).attr("width", x(r[1]) - x(r[0]))
            .attr("y", b.genes - 1.3).attr("height", 2.6).attr("fill", "#1f2f8c");
    });

    svg.append("rect").attr("x", 445).attr("y", conf.top).attr("width", 252).attr("height", conf.bottom - conf.top)
        .attr("fill", "none").attr("stroke", "#444").attr("stroke-width", 1);
}

function drawPanelD() {
    label(svg, 363, 214, "d", 14, { weight: "bold", color: "#111" });
    label(svg, 399, 217, "Examples of switching compartments", 11.7);

    const orange = "#f5a37a", purple = "#c9a0e0", pale = "#7f8fe0";
    drawBrowser({
        legendY: 240, coord: "chr7:20,404,254-31,786,108", top: 243, bottom: 393,
        labels: trackLabelsA,
        labelY: [253, 267, 278, 289, 303, 319, 336, 354, 368, 380, 391],
        base: { pcLow: 254, pcHigh: 269, comp: 278, rna: 382, genes: 389 },
        pcLow: pcLowA, pcHigh: pcHighA, comp: compRegionsA, compColor: "#a01a24",
        signals: [
            [286, k36UpA, k36DownA, "#f47f7f", "#5f74dc", "#ee6a6a"],
            [304, k27UpA, k27DownA, "#4a5ccb", "#f08a8a", "#c85a8a"],
            [322, atacUpA, null, "#b3b08a", null, "#7d8fd0"],
            [336, acUpA, acDownA, "#5aa35a", "#5f7fe0", "#6aa070"],
            [357, radUpA, null, orange, null, "#f3a070"],
            [373, ctcfUpA, null, purple, null, "#b9a0dc"]
        ],
        rna: rnaBarsA, genes: geneBlocksA
    });
    drawBrowser({
        legendY: 437, coord: "chr3:93,705,599-98,304,462", top: 442, bottom: 592,
        labels: trackLabelsB,
        labelY: [452, 466, 477, 488, 499, 518, 534, 550, 567, 580, 590.5],
        base: { pcLow: 454, pcHigh: 471, comp: 479, rna: 582, genes: 586 },
        pcLow: pcLowB, pcHigh: pcHighB, comp: compRegionsB, compColor: "#1c33c4",
        signals: [
            [484, k36UpB, k36DownB, "#f08080", "#4b62d8", "#c05a8a"],
            [498, k27UpB, k27DownB, "#3a4ccb", "#f07a7a", "#3e4fc8"],
            [521, atacUpB, atacDownB, "#b3b08a", pale, "#8a96d8"],
            [534, null, acDownB, "#5aa35a", "#5f7fe0", "#93b0a0"],
            [551, radUpB, radDownB, orange, pale, "#7a8ee0"],
            [566, ctcfUpB, ctcfDownB, purple, pale, "#8a96e0"]
        ],
        rna: rnaBarsB, genes: geneBlocksB, geneLine: geneLineB, rnaLoss: rnaLossB
    });
}

function drawViolinPanel(conf) {
    const y = d3.scaleLinear().domain(conf.yDomain).range([745.7, 621]);
    const x = d3.scalePoint().domain(groups).range(conf.xRange);
    const width = d3.scaleLinear().domain([0, 1]).range([0, 18.3]);

    label(svg, conf.titleX, 612, conf.title, 11.6, { anchor: "middle", color: "#222" });

    const axis = svg.append("g").attr("transform", `translate(${conf.axisX},0)`)
        .call(d3.axisLeft(y).tickValues(conf.ticks).tickFormat(d3.format("d")).tickSize(0).tickPadding(5));
    axis.select(".domain").attr("stroke", "#999");
    axis.selectAll("text").attr("font-size", 8.5).style("fill", "#555")
        .style("font-family", '"Liberation Sans"');
    svg.append("line").attr("x1", conf.axisX).attr("x2", conf.axisEnd).attr("y1", 745.7).attr("y2", 745.7)
        .attr("stroke", "#999").attr("stroke-width", 1);

    groups.forEach((group, i) => {
        const cx = x(group);
        svg.append("path").datum(conf.violins[i])
            .attr("fill", groupColors[i])
            .attr("stroke", i === 2 ? "#888" : groupColors[i])
            .attr("stroke-width", 0.6)
            .attr("d", d3.area().y(d => y(d[0]))
                .x0(d => cx - width(d[1]))
                .x1(d => cx + width(d[1]))
                .curve(d3.curveCatmullRom));
        const box = conf.boxes[i];
        svg.append("rect").attr("x", cx - 4).attr("width", 8)
            .attr("y", y(box[2])).attr("height", y(box[0]) - y(box[2]))
            .attr("fill", "#fff").attr("stroke", "#ddd").attr("stroke-width", 0.4);
        svg.append("line").attr("x1", cx - 4).attr("x2", cx + 4)
            .attr("y1", y(box[1])).attr("y2", y(box[1]))
            .attr("stroke", "#999").attr("stroke-width", 0.7);
        label(svg, cx, 744, conf.medians[i], 8.3, { anchor: "middle" });
    });

    const c = groups.map(x);
    const spans = [[c[0] + 1, c[2], 621.5], [c[0] + 1, c[1] - 5, 628.5], [c[1] + 7, c[2], 628.5]];
    spans.forEach(s => {
        svg.append("line").attr("x1", s[0]).attr("x2", s[1]).attr("y1", s[2]).attr("y2", s[2])
            .attr("stroke", "#888").attr("stroke-width", 0.7);
        label(svg, (s[0] + s[1]) / 2, s[2] - 0.5, "***", 7, { anchor: "middle" });
    });
}

function drawPanelE() {
    label(svg, 1, 592, "e", 14, { weight: "bold", color: "#111" });
    label(svg, 18, 596, "Chromatin features at switching compartments", 11.6);
    label(svg, 0, 0, "log2FC (NSD2 High/Low)", 11.2, { anchor: "middle" })
        .attr("transform", "translate(14,685) rotate(-90)");

    drawViolinPanel({
        title: "H3K36me2", titleX: 100, axisX: 37.7, axisEnd: 163,
        yDomain: [-1.698, 2.836], ticks: [-1, 0, 1, 2], xRange: [62, 142.7],
        violins: k36Violins, boxes: k36Boxes, medians: k36Medians
    });
    drawViolinPanel({
        title: "H3K27me3", titleX: 251, axisX: 189.3, axisEnd: 314,
        yDomain: [-1.673, 1.962], ticks: [-1, 0, 1], xRange: [213.3, 292.7],
        violins: k27Violins, boxes: k27Boxes, medians: k27Medians
    });

    label(svg, 340, 632, "Group", 11.5, { color: "#222" });
    const legendY = d3.scalePoint().domain(groups).range([645, 678]);
    groups.forEach((group, i) => {
        svg.append("rect").attr("x", 328).attr("y", legendY(group) - 4.5)
            .attr("width", 8.5).attr("height", 9).attr("rx", 1.2).attr("fill", groupColors[i]);
        label(svg, 340.5, legendY(group) + 4, group, 11, { color: "#222" });
    });
}

drawPanelA();
drawPanelB();
drawPanelC();
drawPanelD();
drawPanelE();
</script>
</body>
</html>
